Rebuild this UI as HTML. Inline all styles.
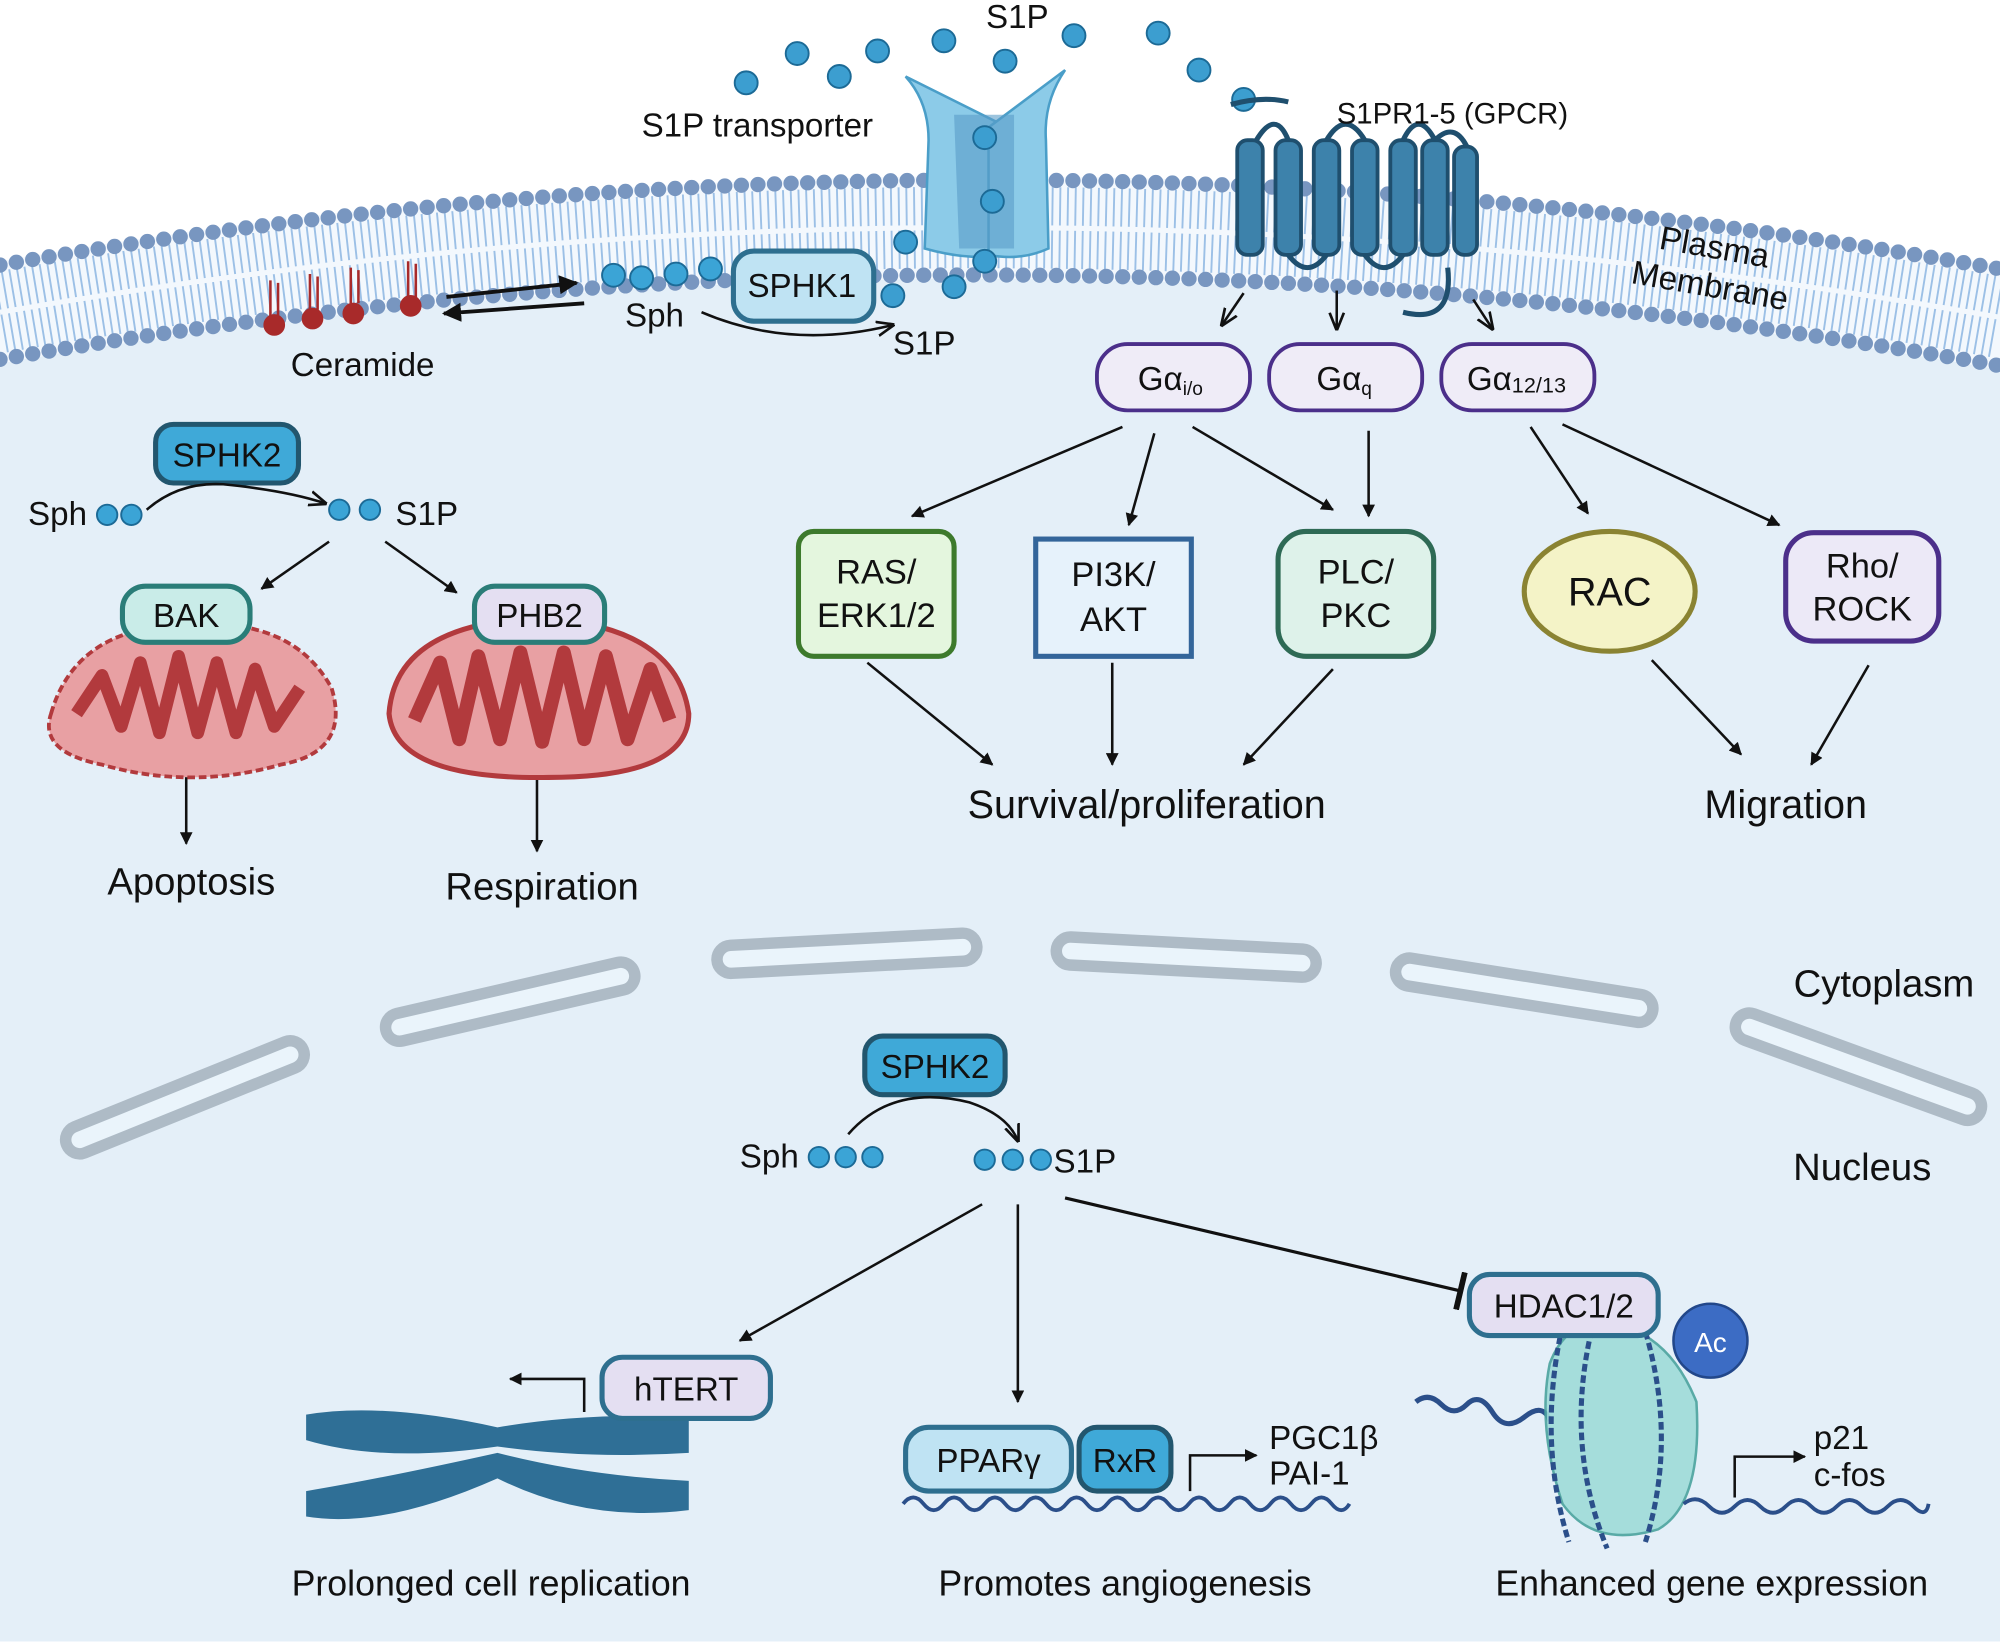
<!DOCTYPE html>
<html><head><meta charset="utf-8"><style>
html,body{margin:0;padding:0;background:#fff;}
svg{display:block;font-family:"Liberation Sans",sans-serif;}
</style></head><body>
<svg width="2000" height="1644" viewBox="0 0 1568 1290" preserveAspectRatio="none" xmlns="http://www.w3.org/2000/svg">
<defs>
<marker id="ah" viewBox="0 0 10 10" refX="9" refY="5" markerWidth="5" markerHeight="5" orient="auto"><path d="M0,0L10,5L0,10z" fill="#111"/></marker>
<marker id="ahs" viewBox="0 0 10 10" refX="9" refY="5" markerWidth="7" markerHeight="7" orient="auto"><path d="M0,1L10,5L0,9" fill="none" stroke="#111" stroke-width="1.5"/></marker>
<marker id="tb" viewBox="0 0 4 20" refX="2" refY="10" markerWidth="4" markerHeight="12" orient="auto"><path d="M2,0V20" stroke="#111" stroke-width="3"/></marker>
</defs>
<path d="M0,285 Q780,150 1568,290 L1568,1288 L0,1288 Z" fill="#e4eff8"/>
<path d="M0,205 Q780,70 1568,208 L1568,290 Q780,150 0,285 Z" fill="#f3f8fd"/>
<path d="M0,245 Q780,110 1568,249" fill="none" stroke="#9cc0e6" stroke-width="64" stroke-dasharray="1.5 4.5"/>
<path d="M0,245 Q780,110 1568,249" fill="none" stroke="#f3f8fd" stroke-width="4"/>
<path d="M0,208 Q780,73 1568,211" fill="none" stroke="#7896c0" stroke-width="12" stroke-linecap="round" stroke-dasharray="0 13"/>
<path d="M0,282 Q780,147 1568,287" fill="none" stroke="#7896c0" stroke-width="12" stroke-linecap="round" stroke-dasharray="0 13"/>
<g fill="#eaf4fb" stroke="#aebbc6" stroke-width="9">
<rect x="45" y="850" width="200" height="22" rx="11" transform="rotate(-22 145 861)"/>
<rect x="300" y="775" width="200" height="22" rx="11" transform="rotate(-13 400 786)"/>
<rect x="562" y="737" width="204" height="22" rx="11" transform="rotate(-3 664 748)"/>
<rect x="828" y="740" width="204" height="22" rx="11" transform="rotate(3 930 751)"/>
<rect x="1093" y="766" width="204" height="22" rx="11" transform="rotate(9 1195 777)"/>
<rect x="1355" y="826" width="204" height="22" rx="11" transform="rotate(20 1457 837)"/>
</g>
<!-- transporter -->
<path d="M710,60 Q728,80 728,110 L725,195 Q760,205 790,200 L790,100 Z" fill="#8ccbe8" stroke="#4a9ec8" stroke-width="2"/>
<path d="M835,55 Q818,80 820,110 L822,195 Q800,205 775,200 L775,100 Z" fill="#8ccbe8" stroke="#4a9ec8" stroke-width="2"/>
<path d="M748,90 L795,90 L795,195 L752,195 Z" fill="#5a9cc8" opacity="0.6"/>
<g fill="#3c9ed0" stroke="#1c6a96" stroke-width="1.5">
<circle cx="585" cy="65" r="9"/><circle cx="625" cy="42" r="9"/><circle cx="658" cy="60" r="9"/><circle cx="688" cy="40" r="9"/><circle cx="740" cy="32" r="9"/><circle cx="788" cy="48" r="9"/><circle cx="842" cy="28" r="9"/><circle cx="908" cy="26" r="9"/><circle cx="940" cy="55" r="9"/><circle cx="975" cy="78" r="9"/>
<circle cx="772" cy="108" r="9"/><circle cx="778" cy="158" r="9"/><circle cx="710" cy="190" r="9"/><circle cx="772" cy="205" r="9"/><circle cx="748" cy="225" r="9"/><circle cx="700" cy="232" r="9"/>
</g>
<path d="M965,82 Q990,75 1010,80" fill="none" stroke="#1f4f6e" stroke-width="4"/>
<g fill="#3d82ab" stroke="#1f4f6e" stroke-width="3">
<rect x="970" y="110" width="20" height="90" rx="8"/><rect x="1000" y="110" width="20" height="90" rx="8"/><rect x="1030" y="110" width="20" height="90" rx="8"/><rect x="1060" y="110" width="20" height="90" rx="8"/><rect x="1090" y="110" width="20" height="90" rx="8"/><rect x="1115" y="110" width="20" height="90" rx="8"/><rect x="1140" y="115" width="18" height="85" rx="8"/>
</g>
<path d="M985,110 Q1000,85 1010,110 M1040,110 Q1055,85 1070,110 M1100,110 Q1112,85 1125,110 M1125,110 Q1140,95 1150,115 M1010,200 Q1025,220 1040,200 M1070,200 Q1085,220 1100,200 M1100,245 Q1140,255 1135,210" fill="none" stroke="#1f4f6e" stroke-width="4"/>
<g fill="#a82a2a" stroke="#a82a2a"><circle cx="215" cy="255" r="8"/><circle cx="245" cy="250" r="8"/><circle cx="277" cy="246" r="8"/><circle cx="322" cy="240" r="8"/></g>
<g stroke="#a82a2a" stroke-width="2"><path d="M212,248V220M218,248V222M243,243V215M249,243V217M275,238V210M281,238V212M320,233V205M326,233V207"/></g>
<path d="M350,233 L452,222" stroke="#111" stroke-width="3" marker-end="url(#ah)" fill="none"/>
<path d="M458,238 L348,246" stroke="#111" stroke-width="3" marker-end="url(#ah)" fill="none"/>
<g fill="#3ba4d6" stroke="#1c6a96" stroke-width="1.5"><circle cx="481" cy="216" r="9"/><circle cx="503" cy="218" r="9"/><circle cx="530" cy="215" r="9"/><circle cx="557" cy="211" r="9"/></g>
<path d="M550,245 Q620,275 700,255" fill="none" stroke="#111" stroke-width="2" marker-end="url(#ahs)"/>
<rect x="575" y="197" width="110" height="55" rx="16" fill="#bfe3f3" stroke="#2e6f8f" stroke-width="4"/>
<g font-size="26" fill="#111">
<text x="586" y="233">SPHK1</text>
<text x="490" y="256">Sph</text>
<text x="700" y="278">S1P</text>
<text x="228" y="295">Ceramide</text>
<text x="503" y="107">S1P transporter</text>
<text x="773" y="22">S1P</text>
<text x="1048" y="97" font-size="23">S1PR1-5 (GPCR)</text>
<text x="1300" y="195" transform="rotate(10 1300 195)">Plasma</text>
<text x="1278" y="222" transform="rotate(10 1278 222)">Membrane</text>
</g>
<g stroke="#111" stroke-width="2" fill="none" marker-end="url(#ahs)">
<path d="M975,230 L958,255"/><path d="M1048,228 L1048,258"/><path d="M1155,235 L1170,258"/>
</g>
<g stroke="#4b2f8a" stroke-width="3" fill="#efecf7">
<rect x="860" y="270" width="120" height="52" rx="24"/><rect x="995" y="270" width="120" height="52" rx="24"/><rect x="1130" y="270" width="120" height="52" rx="24"/>
</g>
<g font-size="26" fill="#111">
<text x="892" y="306">Gα<tspan font-size="15" dy="4">i/o</tspan></text>
<text x="1032" y="306">Gα<tspan font-size="15" dy="4">q</tspan></text>
<text x="1150" y="306">Gα<tspan font-size="17" dy="2">12/13</tspan></text>
</g>
<g stroke="#111" stroke-width="2" fill="none" marker-end="url(#ah)">
<path d="M880,335 L715,405"/><path d="M905,340 L885,412"/><path d="M935,335 L1045,400"/><path d="M1073,338 L1073,405"/>
<path d="M1200,335 L1245,403"/><path d="M1225,333 L1395,412"/>
<path d="M680,520 L778,600"/><path d="M872,520 L872,600"/><path d="M1045,525 L975,600"/>
<path d="M1295,518 L1365,592"/><path d="M1465,522 L1420,600"/>
<path d="M146,605 V662"/><path d="M421,612 V668"/>
<path d="M258,425 L205,462"/><path d="M302,425 L358,465"/>
<path d="M770,945 L580,1052"/><path d="M798,945 L798,1100"/>
</g>
<rect x="626" y="417" width="122" height="98" rx="12" fill="#e4f6de" stroke="#3d7a2c" stroke-width="4"/>
<rect x="812" y="423" width="122" height="92" fill="#e6f2fb" stroke="#33659a" stroke-width="4"/>
<rect x="1002" y="417" width="122" height="98" rx="22" fill="#def2ea" stroke="#2e6a55" stroke-width="4"/>
<ellipse cx="1262" cy="464" rx="67" ry="47" fill="#f4f3c7" stroke="#8a8332" stroke-width="4"/>
<rect x="1400" y="418" width="120" height="85" rx="22" fill="#ece9f7" stroke="#4b2f8a" stroke-width="4"/>
<g font-size="27" fill="#111" text-anchor="middle">
<text x="687" y="458">RAS/</text><text x="687" y="492">ERK1/2</text>
<text x="873" y="460">PI3K/</text><text x="873" y="495">AKT</text>
<text x="1063" y="458">PLC/</text><text x="1063" y="492">PKC</text>
<text x="1262" y="475" font-size="31">RAC</text>
<text x="1460" y="453">Rho/</text><text x="1460" y="487">ROCK</text>
<text x="899" y="642" font-size="31">Survival/proliferation</text>
<text x="1400" y="642" font-size="31">Migration</text>
<text x="150" y="702" font-size="30">Apoptosis</text>
<text x="425" y="706" font-size="30">Respiration</text>
<text x="1477" y="782" font-size="30">Cytoplasm</text>
<text x="1460" y="926" font-size="30">Nucleus</text>
<text x="385" y="1252" font-size="28">Prolonged cell replication</text>
<text x="882" y="1252" font-size="28">Promotes angiogenesis</text>
<text x="1342" y="1252" font-size="28">Enhanced gene expression</text>
</g>
<rect x="122" y="333" width="112" height="46" rx="14" fill="#3fa9d8" stroke="#22566e" stroke-width="4"/>
<text x="178" y="366" font-size="26" text-anchor="middle" fill="#111">SPHK2</text>
<text x="22" y="412" font-size="26" fill="#111">Sph</text>
<g fill="#3ba4d6" stroke="#1c6a96" stroke-width="1.5"><circle cx="84" cy="404" r="8"/><circle cx="103" cy="404" r="8"/><circle cx="266" cy="400" r="8"/><circle cx="290" cy="400" r="8"/></g>
<text x="310" y="412" font-size="26" fill="#111">S1P</text>
<path d="M115,400 Q140,378 175,380 Q225,385 255,395" fill="none" stroke="#111" stroke-width="2" marker-end="url(#ahs)"/>
<path d="M40,560 Q60,490 150,490 Q230,485 260,540 Q275,590 220,600 Q150,620 80,600 Q30,590 40,560Z" fill="#e8a0a3" stroke="#b23a3d" stroke-width="3" stroke-dasharray="6 3"/>
<path d="M60,560 L80,530 L95,570 L110,520 L125,575 L140,515 L155,575 L170,520 L185,575 L200,525 L215,570 L235,540" fill="none" stroke="#b23a3d" stroke-width="10" stroke-linejoin="round"/>
<path d="M305,560 Q310,490 420,485 Q530,490 540,560 Q540,610 430,610 Q310,612 305,560Z" fill="#e8a0a3" stroke="#b23a3d" stroke-width="4"/>
<path d="M325,565 L345,520 L360,580 L375,515 L392,580 L408,512 L425,582 L442,512 L458,580 L475,515 L492,580 L510,525 L525,565" fill="none" stroke="#b23a3d" stroke-width="11" stroke-linejoin="round"/>
<rect x="96" y="460" width="100" height="44" rx="18" fill="#c9ece8" stroke="#2a7d78" stroke-width="4"/>
<text x="146" y="492" font-size="26" text-anchor="middle" fill="#111">BAK</text>
<rect x="372" y="460" width="102" height="44" rx="16" fill="#e4dff2" stroke="#2a7d78" stroke-width="4"/>
<text x="423" y="492" font-size="26" text-anchor="middle" fill="#111">PHB2</text>
<rect x="678" y="813" width="110" height="46" rx="14" fill="#3fa9d8" stroke="#22566e" stroke-width="4"/>
<text x="733" y="846" font-size="26" text-anchor="middle" fill="#111">SPHK2</text>
<text x="580" y="916" font-size="26" fill="#111">Sph</text>
<g fill="#3ba4d6" stroke="#1c6a96" stroke-width="1.5"><circle cx="642" cy="908" r="8"/><circle cx="663" cy="908" r="8"/><circle cx="684" cy="908" r="8"/><circle cx="772" cy="910" r="8"/><circle cx="794" cy="910" r="8"/><circle cx="816" cy="910" r="8"/></g>
<text x="826" y="920" font-size="26" fill="#111">S1P</text>
<path d="M665,890 Q700,850 760,865 Q790,875 798,895" fill="none" stroke="#111" stroke-width="2" marker-end="url(#ahs)"/>
<path d="M835,940 L1145,1013" stroke="#111" stroke-width="2.5" marker-end="url(#tb)" fill="none"/>
<path d="M240,1110 Q300,1100 390,1120 Q460,1108 540,1112 L540,1140 Q460,1145 390,1135 Q300,1148 240,1130Z" fill="#2f6f96"/>
<path d="M240,1170 Q300,1160 390,1140 Q460,1158 540,1162 L540,1185 Q460,1195 390,1160 Q300,1200 240,1190Z" fill="#2f6f96"/>
<path d="M458,1108 V1082 H400" fill="none" stroke="#111" stroke-width="2" marker-end="url(#ah)"/>
<rect x="472" y="1065" width="132" height="48" rx="16" fill="#e4dff2" stroke="#2e6f8f" stroke-width="4"/>
<text x="538" y="1099" font-size="26" text-anchor="middle" fill="#111">hTERT</text>
<path d="M708,1180 Q716,1170 724,1180 T740,1180 T756,1180 T772,1180 T788,1180 T804,1180 T820,1180 T836,1180 T852,1180 T868,1180 T884,1180 T900,1180 T916,1180 T932,1180 T948,1180 T964,1180 T980,1180 T996,1180 T1012,1180 T1028,1180 T1044,1180 T1058,1180" fill="none" stroke="#2b4f8a" stroke-width="3"/>
<rect x="710" y="1120" width="130" height="50" rx="18" fill="#bfe3f3" stroke="#2e6f8f" stroke-width="4"/>
<text x="775" y="1155" font-size="26" text-anchor="middle" fill="#111">PPARγ</text>
<rect x="846" y="1120" width="72" height="50" rx="14" fill="#3fa9d8" stroke="#22566e" stroke-width="4"/>
<text x="882" y="1155" font-size="26" text-anchor="middle" fill="#111">RxR</text>
<path d="M933,1170 V1142 H985" fill="none" stroke="#111" stroke-width="2" marker-end="url(#ah)"/>
<text x="995" y="1137" font-size="26" fill="#111">PGC1β</text>
<text x="995" y="1165" font-size="26" fill="#111">PAI-1</text>
<path d="M1110,1100 Q1120,1092 1130,1102 T1150,1102 T1170,1108 T1195,1112 T1215,1115" fill="none" stroke="#2b4f8a" stroke-width="4"/>
<path d="M1215,1070 Q1230,1030 1270,1040 Q1310,1050 1330,1100 Q1335,1180 1300,1200 Q1250,1215 1225,1180 Q1205,1120 1215,1070Z" fill="#9fdcd8" stroke="#4aa39e" stroke-width="2" opacity="0.9"/>
<path d="M1225,1040 Q1205,1130 1230,1210 M1250,1035 Q1225,1130 1260,1215 M1290,1045 Q1315,1130 1290,1210" fill="none" stroke="#2b4f8a" stroke-width="4" stroke-dasharray="6 3"/>
<path d="M1320,1180 Q1330,1172 1340,1182 T1360,1182 T1380,1182 T1400,1182 T1420,1182 T1440,1182 T1460,1182 T1480,1182 T1500,1182 T1512,1180" fill="none" stroke="#2b4f8a" stroke-width="3"/>
<rect x="1152" y="1000" width="148" height="48" rx="16" fill="#e4dff2" stroke="#2e6f8f" stroke-width="4"/>
<text x="1226" y="1034" font-size="26" text-anchor="middle" fill="#111">HDAC1/2</text>
<circle cx="1341" cy="1052" r="29" fill="#3c6cc4" stroke="#22478a" stroke-width="2"/>
<text x="1341" y="1061" font-size="22" text-anchor="middle" fill="#fff">Ac</text>
<path d="M1360,1175 V1143 H1415" fill="none" stroke="#111" stroke-width="2" marker-end="url(#ah)"/>
<text x="1422" y="1137" font-size="26" fill="#111">p21</text>
<text x="1422" y="1166" font-size="26" fill="#111">c-fos</text>
</svg>
</body></html>
